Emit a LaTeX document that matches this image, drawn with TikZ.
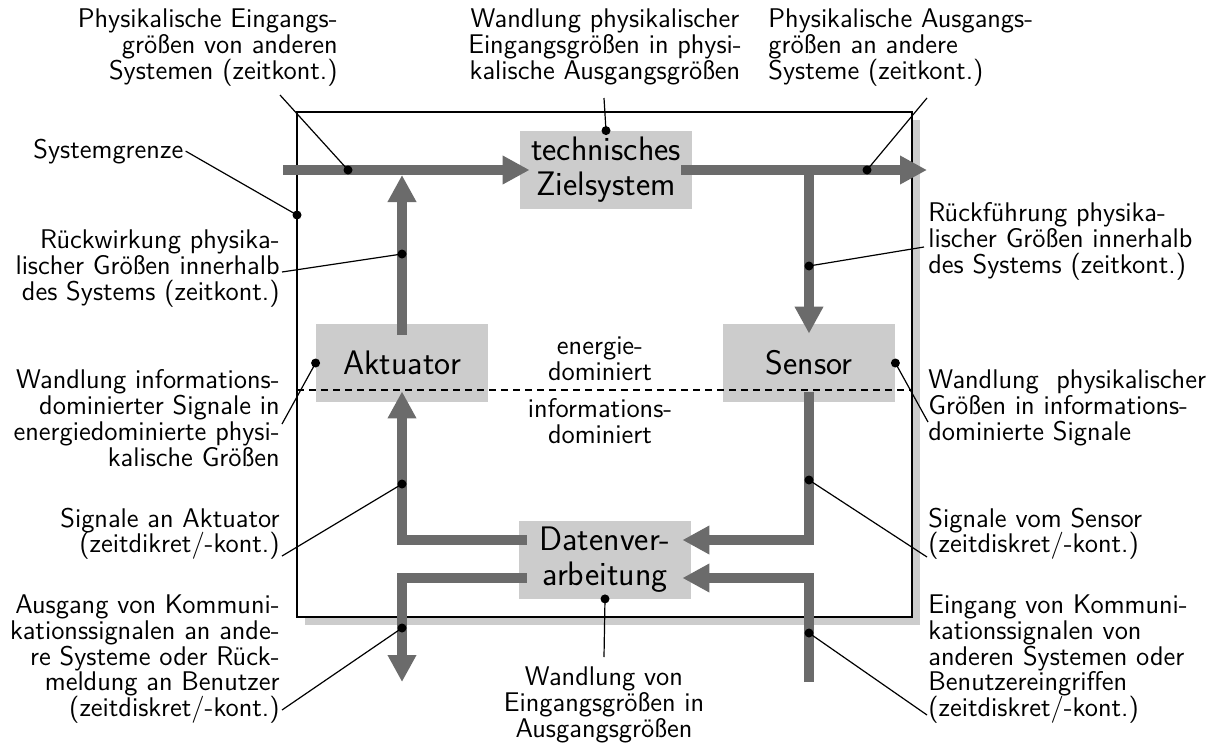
\documentclass[tikz,border=0pt]{standalone}
\usepackage{tikz}
\usetikzlibrary{arrows,arrows.meta,positioning,calc}
\usepackage{xcolor}

\definecolor{flowgrau}{gray}{0.42}
\definecolor{kastengrau}{gray}{0.8}
\newcommand{\lblfont}{\sffamily\fontsize{13.5}{12.9}\selectfont}
\newcommand{\blkfont}{\sffamily\fontsize{17}{17.5}\selectfont}
\lineskiplimit=-20pt

\begin{document}
\begin{tikzpicture}[x=0.5pt,y=-0.5pt,
  block/.style={fill=kastengrau, minimum width=86pt, minimum height=39pt, inner sep=0pt, align=center, font=\blkfont},
  lbl/.style={inner sep=0pt, font=\lblfont},
  flow/.style={draw=flowgrau, line width=5pt},
  flowarr/.style={flow, -{Triangle[length=13.5pt,width=13.5pt]}},
  dot/.style={circle, fill=black, inner sep=0pt, minimum size=4.5pt},
  leader/.style={draw=black, line width=0.6pt}]
  \useasboundingbox (0,0) rectangle (1216,744);

  \fill[kastengrau] (305,120) rectangle (920,625);
  \draw[fill=white, line width=0.8pt] (297,112) rectangle (912,617);

  \node[block] (ziel) at (606,170) {technisches\\Zielsystem};
  \node[block] (akt) at (402,363) {Aktuator};
  \node[block] (sens) at (809,363) {Sensor};
  \node[block] (dv) at (605,559.5) {Datenver-\\arbeitung};

  \draw[line width=1.1pt, dash pattern=on 3.5pt off 2.5pt] (297,390) -- (912,390);

  \coordinate (einL) at (283,170);
  \coordinate (ausR) at (927,170);
  \coordinate (abzw) at (809,170);
  \coordinate (rueckw) at (402,175);
  \coordinate (kommAus) at (402,682);
  \coordinate (kommEin) at (809,682);

  \draw[flowarr] (einL) -- ($(ziel.west)+(10,0)$);
  \draw[flowarr] ($(ziel.east)+(-11,0)$) -- (ausR);
  \draw[flowarr] (abzw) -- ($(sens.north)+(0,10)$);
  \draw[flowarr] ($(akt.north)+(0,11)$) -- (rueckw);
  \draw[flowarr] ($(dv.west)+(8,-19.5)$) -| ($(akt.south)+(0,-11)$);
  \draw[flowarr] ($(dv.west)+(8,18.5)$) -| (kommAus);
  \draw[flowarr] ($(sens.south)+(0,-10)$) |- ($(dv.east)+(-9,-19.5)$);
  \draw[flowarr] (kommEin) |- ($(dv.east)+(-9,18.5)$);

  \node[dot] (pEin) at (348,170) {};
  \node[dot] (pZiel) at (ziel.north) {};
  \node[dot] (pAus) at (867,170) {};
  \node[dot] (pGrenze) at (297,215) {};
  \node[dot] (pRueckw) at (402,254) {};
  \node[dot] (pRueckf) at (809,266) {};
  \node[dot] (pAkt) at (akt.west) {};
  \node[dot] (pSens) at (sens.east) {};
  \node[dot] (pSigAkt) at (402,484) {};
  \node[dot] (pSigSens) at (809,480) {};
  \node[dot] (pKommAus) at (402,628) {};
  \node[dot] (pKommEin) at (809,633) {};
  \node[dot] (pDV) at (dv.south) {};

  \node[lbl, anchor=north east, align=right] (lblEin) at (338,8.3) {Physikalische Eingangs-\\größen von anderen\\Systemen (zeitkont.)};
  \node[lbl, anchor=north, align=center] (lblWandlPhys) at (605,8.3) {Wandlung physikalischer\\Eingangsgrößen in physi-\\kalische Ausgangsgrößen};
  \node[lbl, anchor=north west, align=left] (lblAus) at (768,8.3) {Physikalische Ausgangs-\\größen an andere\\Systeme (zeitkont.)};
  \node[lbl, anchor=base west] (lblGrenze) at (33,158) {Systemgrenze};
  \node[lbl, anchor=north east, align=right] (lblRueckw) at (280,229.3) {Rückwirkung physika-\\lischer Größen innerhalb\\des Systems (zeitkont.)};
  \node[lbl, anchor=north west, align=left] (lblRueckf) at (928,202.3) {Rückführung physika-\\lischer Größen innerhalb\\des Systems (zeitkont.)};
  \node[lbl, anchor=north, align=center] (lblEnergie) at (600,336.3) {energie-\\dominiert};
  \node[lbl, anchor=north, align=center] (lblInfo) at (600,398.3) {informations-\\dominiert};
  \node[lbl, anchor=north east, align=right] (lblWandlInfo) at (280,369.3) {Wandlung informations-\\dominierter Signale in\\energiedominierte physi-\\kalische Größen};
  \node[lbl, anchor=north west, align=left] (lblWandlSens) at (928,369.3) {Wandlung~ physikalischer\\Größen in informations-\\dominierte Signale};
  \node[lbl, anchor=north east, align=right] (lblSigAkt) at (280,507.3) {Signale an Aktuator\\(zeitdikret/-kont.)};
  \node[lbl, anchor=north west, align=left] (lblSigSens) at (928,507.3) {Signale vom Sensor\\(zeitdiskret/-kont.)};
  \node[lbl, anchor=north east, align=right] (lblKommAus) at (280,594.3) {Ausgang von Kommuni-\\kationssignalen an ande-\\re Systeme oder Rück-\\meldung an Benutzer\\(zeitdiskret/-kont.)};
  \node[lbl, anchor=north, align=center] (lblWandlDV) at (604,666.3) {Wandlung von\\Eingangsgrößen in\\Ausgangsgrößen};
  \node[lbl, anchor=north west, align=left] (lblKommEin) at (928,594.3) {Eingang von Kommuni-\\kationssignalen von\\anderen Systemen oder\\Benutzereingriffen\\(zeitdiskret/-kont.)};

  \coordinate (aEin) at (280,95);
  \coordinate (aWandlPhys) at (604,98);
  \coordinate (aAus) at (927,98);
  \coordinate (aRueckw) at (282,272);
  \coordinate (aRueckf) at (924,247);
  \coordinate (aWandlInfo) at (282,424);
  \coordinate (aWandlSens) at (928,422);
  \coordinate (aSigAkt) at (282,556);
  \coordinate (aSigSens) at (927,557);
  \coordinate (aKommAus) at (282,710);
  \coordinate (aKommEin) at (927,715);
  \coordinate (aWandlDV) at (604,657);

  \draw[leader] (aEin) -- (pEin.center);
  \draw[leader] (aWandlPhys) -- (pZiel.center);
  \draw[leader] (aAus) -- (pAus.center);
  \draw[leader] ($(lblGrenze.east)+(2,0)$) -- (pGrenze.center);
  \draw[leader] (aRueckw) -- (pRueckw.center);
  \draw[leader] (pRueckf.center) -- (aRueckf);
  \draw[leader] (aWandlInfo) -- (pAkt.center);
  \draw[leader] (pSens.center) -- (aWandlSens);
  \draw[leader] (aSigAkt) -- (pSigAkt.center);
  \draw[leader] (pSigSens.center) -- (aSigSens);
  \draw[leader] (aKommAus) -- (pKommAus.center);
  \draw[leader] (pKommEin.center) -- (aKommEin);
  \draw[leader] (pDV.center) -- (aWandlDV);
\end{tikzpicture}
\end{document}
